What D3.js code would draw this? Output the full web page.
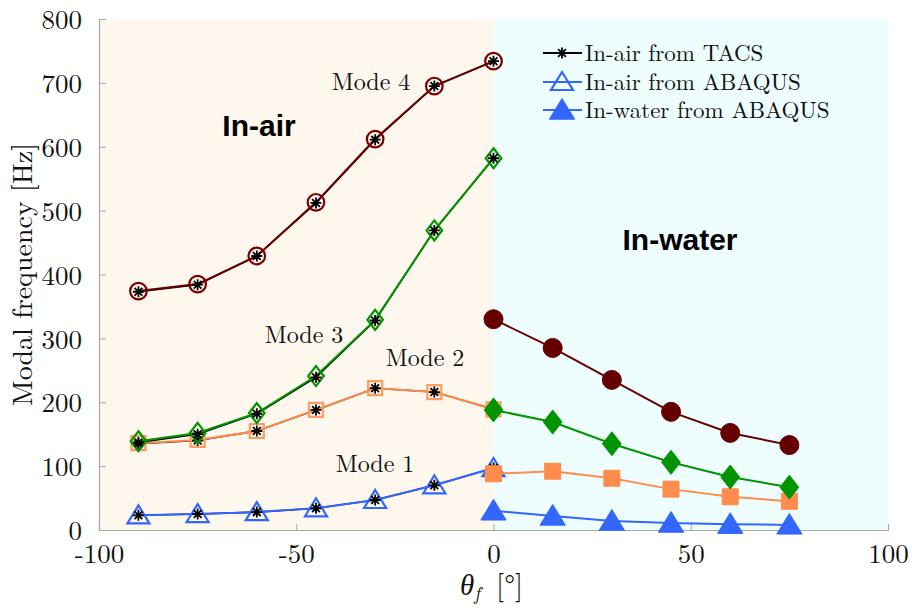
<!DOCTYPE html>
<html>
<head>
<meta charset="utf-8">
<script src="https://cdn.jsdelivr.net/npm/d3@7/dist/d3.min.js"></script>
<style>
  html, body { margin: 0; padding: 0; background: #ffffff; }
  svg { display: block; }
  .serif { font-family: "Latin Modern Roman", "CMU Serif", "Liberation Serif", "DejaVu Serif", serif; fill: #111; }
  .sans { font-family: "Liberation Sans", Arial, sans-serif; font-weight: bold; fill: #000; }
</style>
</head>
<body>
<svg id="chart" width="912" height="612"></svg>
<script>
// Fibre angle positions (degrees)
const anglesAir = [-90, -75, -60, -45, -30, -15, 0];
const anglesWater = [0, 15, 30, 45, 60, 75];

// In-air modal frequencies from ABAQUS [Hz]
const airMode1 = [23, 25, 28, 34, 47, 70, 97];
const airMode2 = [136, 141, 155, 188, 222, 216, 189];
const airMode3 = [139, 152, 183, 241, 329, 469, 582];
const airMode4 = [374, 385, 429, 513, 612, 695, 734];

// In-air modal frequencies from TACS [Hz]
const tacsMode1 = [23, 25, 28, 34, 47, 70, 97];
const tacsMode2 = [135, 140, 155, 188, 222, 216, 189];
const tacsMode3 = [137, 150, 182, 239, 328, 469, 582];
const tacsMode4 = [373, 384, 429, 512, 611, 695, 734];

// In-water modal frequencies from ABAQUS [Hz]
const waterMode1 = [30, 22, 14, 11, 9, 8];
const waterMode2 = [88, 92, 81, 64, 52, 45];
const waterMode3 = [188, 169, 135, 106, 83, 67];
const waterMode4 = [330, 285, 235, 185, 152, 133];

// Axis ticks and labels
const xTicks = [-100, -50, 0, 50, 100];
const yTicks = [0, 100, 200, 300, 400, 500, 600, 700, 800];
const modeNames = ["Mode 1", "Mode 2", "Mode 3", "Mode 4"];
const legendLabels = ["In-air from TACS", "In-air from ABAQUS", "In-water from ABAQUS"];

const svg = d3.select("#chart");
const x = d3.scaleLinear().domain([-100, 100]).range([99, 888]);
const y = d3.scaleLinear().domain([0, 800]).range([530, 19]);

// Shaded regions
svg.append("rect")
  .attr("x", x(-100)).attr("y", y(800))
  .attr("width", x(0) - x(-100)).attr("height", y(0) - y(800))
  .attr("fill", "#fdf7ee");
svg.append("rect")
  .attr("x", x(0)).attr("y", y(800))
  .attr("width", x(100) - x(0)).attr("height", y(0) - y(800))
  .attr("fill", "#eefefe");

// Axes (plain hyphen for negative numbers)
const fmt = d => String(d);
const axisColor = "#a8a8a8";
const xAxis = svg.append("g").attr("transform", `translate(0,${y(0)})`)
  .call(d3.axisBottom(x).tickValues(xTicks).tickSize(-6).tickFormat(fmt).tickPadding(14));
const yAxis = svg.append("g").attr("transform", `translate(${x(-100)},0)`)
  .call(d3.axisLeft(y).tickValues(yTicks).tickSize(-7).tickFormat(fmt).tickPadding(17));
[xAxis, yAxis].forEach(g => {
  g.select(".domain").attr("stroke", axisColor).attr("stroke-width", 1.2);
  g.selectAll(".tick line").attr("stroke", axisColor).attr("stroke-width", 1);
  g.selectAll(".tick text").attr("class", "serif").attr("font-size", 27).attr("fill", "#222");
});
xAxis.selectAll(".tick text").attr("dy", "0.71em");
yAxis.selectAll(".tick text").attr("dy", "0.36em");

// Axis titles
svg.append("text").attr("class", "serif")
  .attr("transform", `translate(32,${(y(0) + y(800)) / 2}) rotate(-90)`)
  .attr("text-anchor", "middle").attr("font-size", 28)
  .text("Modal frequency [Hz]");
const xt = svg.append("text").attr("class", "serif")
  .attr("x", 460).attr("y", 595).attr("font-size", 29);
xt.append("tspan").attr("font-style", "italic").text("θ");
xt.append("tspan").attr("font-style", "italic").attr("font-size", 19).attr("dy", 5).text("f");
xt.append("tspan").attr("dy", -5).attr("dx", 16).text("[°]");

// Region labels
svg.append("text").attr("class", "sans").attr("x", 259).attr("y", 136)
  .attr("text-anchor", "middle").attr("font-size", 30).text("In-air");
svg.append("text").attr("class", "sans").attr("x", 680).attr("y", 250)
  .attr("text-anchor", "middle").attr("font-size", 30).text("In-water");

// Colours and marker shapes per mode
const colors = ["#3366ff", "#ff8c4c", "#009400", "#660000"];
const strokeCols = ["#3366ff", "#ff9a60", "#009400", "#7a0000"];

function shapePath(kind, s) {
  // s: nominal half-size
  if (kind === "circle") {
    return `M${-s},0A${s},${s} 0 1,0 ${s},0A${s},${s} 0 1,0 ${-s},0Z`;
  } else if (kind === "square") {
    return `M${-s},${-s}H${s}V${s}H${-s}Z`;
  } else if (kind === "diamond") {
    const w = s * 0.78;
    return `M0,${-s}L${w},0L0,${s}L${-w},0Z`;
  } else {
    const h = s * 1.0, w = s * 1.1;
    return `M0,${-h}L${w},${h * 0.8}L${-w},${h * 0.8}Z`;
  }
}
const shapes = ["triangle", "square", "diamond", "circle"];
const hollowSize = [10, 7, 10, 8.3];
const filledSize = [11.5, 8, 12, 9.5];

function asterisk(s) {
  const d = s * 0.7071;
  return `M${-s},0H${s}M0,${-s}V${s}M${-d},${-d}L${d},${d}M${-d},${d}L${d},${-d}`;
}

const airSeries = [airMode1, airMode2, airMode3, airMode4];
const tacsSeries = [tacsMode1, tacsMode2, tacsMode3, tacsMode4];
const waterSeries = [waterMode1, waterMode2, waterMode3, waterMode4];

const line = d3.line().x(d => x(d[0])).y(d => y(d[1]));

// In-air curves: TACS line, ABAQUS line and hollow markers, TACS asterisks on top
airSeries.forEach((vals, m) => {
  const tPts = anglesAir.map((a, i) => [a, tacsSeries[m][i]]);
  const aPts = anglesAir.map((a, i) => [a, vals[i]]);
  svg.append("path").attr("d", line(tPts)).attr("fill", "none")
    .attr("stroke", "#000").attr("stroke-width", 1.6);
  svg.append("path").attr("d", line(aPts)).attr("fill", "none")
    .attr("stroke", colors[m]).attr("stroke-width", 2);
  svg.selectAll(null).data(aPts).enter().append("path")
    .attr("transform", d => `translate(${x(d[0])},${y(d[1])})`)
    .attr("d", shapePath(shapes[m], hollowSize[m]))
    .attr("fill", "none").attr("stroke", strokeCols[m]).attr("stroke-width", 2.2);
  svg.selectAll(null).data(tPts).enter().append("path")
    .attr("transform", d => `translate(${x(d[0])},${y(d[1])})`)
    .attr("d", asterisk(5.5))
    .attr("fill", "none").attr("stroke", "#000").attr("stroke-width", 1.8);
});

// In-water curves with filled markers
waterSeries.forEach((vals, m) => {
  const pts = anglesWater.map((a, i) => [a, vals[i]]);
  svg.append("path").attr("d", line(pts)).attr("fill", "none")
    .attr("stroke", colors[m]).attr("stroke-width", 2);
  svg.selectAll(null).data(pts).enter().append("path")
    .attr("transform", d => `translate(${x(d[0])},${y(d[1])})`)
    .attr("d", shapePath(shapes[m], filledSize[m]))
    .attr("fill", colors[m]).attr("stroke", colors[m]).attr("stroke-width", 1);
});

// Mode labels
const modeLabelPos = [[375, 472], [425, 366], [304, 343], [371, 90]];
modeNames.forEach((name, i) => {
  svg.append("text").attr("class", "serif")
    .attr("x", modeLabelPos[i][0]).attr("y", modeLabelPos[i][1])
    .attr("text-anchor", "middle").attr("font-size", 24).text(name);
});

// Legend
const legY = [53, 82, 110];
const lg = svg.append("g");
legendLabels.forEach((lab, i) => {
  const row = lg.append("g").attr("transform", `translate(0,${legY[i]})`);
  const col = i === 0 ? "#000" : colors[0];
  row.append("line").attr("x1", 543).attr("x2", 582).attr("y1", 0).attr("y2", 0)
    .attr("stroke", col).attr("stroke-width", 2);
  if (i === 0) {
    row.append("path").attr("transform", "translate(562,0)").attr("d", asterisk(5.5))
      .attr("fill", "none").attr("stroke", "#000").attr("stroke-width", 1.8);
  } else if (i === 1) {
    row.append("path").attr("transform", "translate(562,0)").attr("d", shapePath("triangle", hollowSize[0]))
      .attr("fill", "none").attr("stroke", colors[0]).attr("stroke-width", 2.2);
  } else {
    row.append("path").attr("transform", "translate(562,0)").attr("d", shapePath("triangle", filledSize[0]))
      .attr("fill", colors[0]).attr("stroke", colors[0]).attr("stroke-width", 1);
  }
  row.append("text").attr("class", "serif").attr("x", 585).attr("y", 0).attr("dy", "0.33em")
    .attr("font-size", 23).text(lab);
});
</script>
</body>
</html>
